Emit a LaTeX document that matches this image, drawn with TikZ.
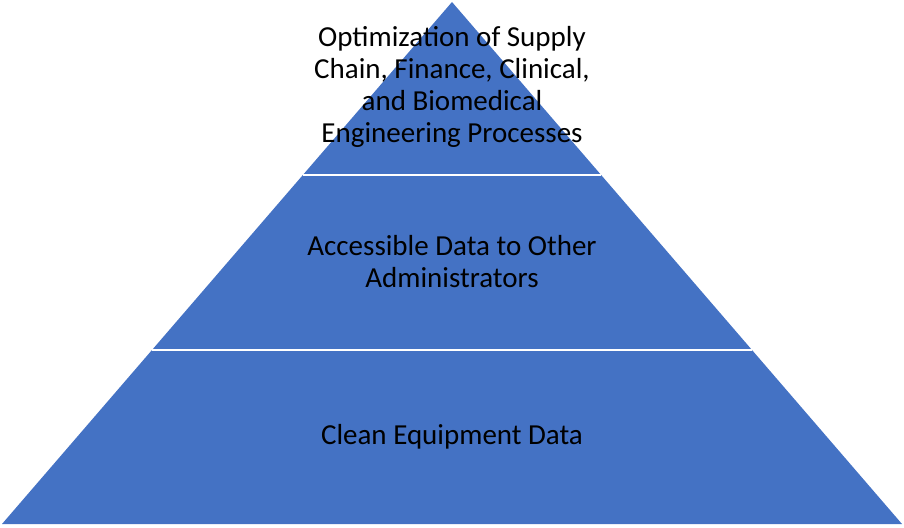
\documentclass[tikz,border=0pt]{standalone}
\usepackage{fontspec}
\setmainfont{Carlito}
\definecolor{pyr}{HTML}{4472C4}
\begin{document}
\begin{tikzpicture}[x=1pt,y=-1pt,
  lbl/.style={align=center,font=\fontsize{29}{32}\selectfont,text=black}]
\useasboundingbox (0,0) rectangle (904,527);
\coordinate (apex) at (452,2);
\coordinate (bl) at (2,524);
\coordinate (br) at (902,524);
\fill[pyr] (apex) -- (br) -- (bl) -- cycle;
\coordinate (l1) at (303,175); \coordinate (r1) at (601,175);
\coordinate (l2) at (152,350); \coordinate (r2) at (752,350);
\draw[white,line width=1.5pt] (l1) -- (r1);
\draw[white,line width=1.5pt] (l2) -- (r2);
\node[lbl] (t) at (452,87) {Optimization of Supply\\Chain, Finance, Clinical,\\and Biomedical\\Engineering Processes};
\node[lbl] (m) at (452,262) {Accessible Data to Other\\Administrators};
\node[lbl] (b) at (452,437) {Clean Equipment Data};
\end{tikzpicture}
\end{document}
